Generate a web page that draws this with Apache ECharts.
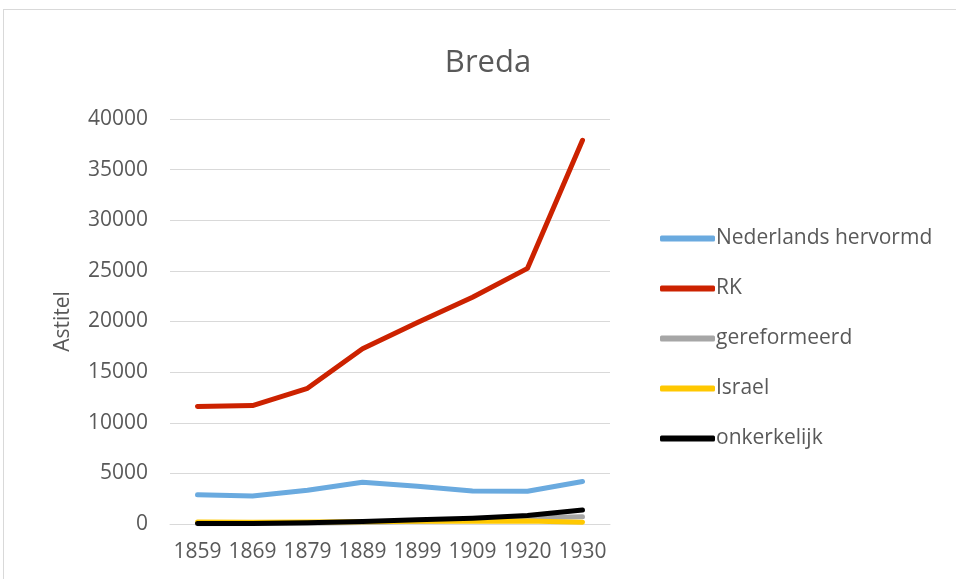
<!DOCTYPE html>
<html>
<head>
<meta charset="utf-8">
<script src="https://cdn.jsdelivr.net/npm/echarts@6/dist/echarts.min.js"></script>
<style>
html,body{margin:0;padding:0;background:#fff;}
#frame{position:absolute;left:3px;top:9px;width:960px;height:580px;border:1px solid #d9d9d9;box-sizing:border-box;}
#chart{position:absolute;left:0;top:0;width:956px;height:579px;}
</style>
</head>
<body>
<div id="frame"></div>
<div id="chart"></div>
<script>
var years = ['1859','1869','1879','1889','1899','1909','1920','1930'];
var hervormd = [2880, 2770, 3330, 4120, 3720, 3270, 3230, 4200];
var rk = [11600, 11700, 13400, 17300, 19900, 22400, 25250, 37900];
var gereformeerd = [30, 40, 80, 150, 280, 400, 600, 720];
var israel = [200, 170, 190, 230, 260, 280, 300, 170];
var onkerkelijk = [40, 60, 120, 250, 430, 580, 830, 1380];
var names = ['Nederlands hervormd','RK','gereformeerd','Israel','onkerkelijk'];
var colors = ['#6AAADF','#CC2200','#A6A6A6','#FFC800','#000000'];

var txt = '#595959';
var font = '"Open Sans", sans-serif';

function mk(i, d){
	return {
		name: names[i],
		type: 'line',
		data: d,
		symbol: 'none',
		lineStyle: {width: 5, color: colors[i], cap: 'round', join: 'round'},
		itemStyle: {color: colors[i]}
	};
}

var chart = echarts.init(document.getElementById('chart'));
var option = {
	animation: false,
	title: {
		text: 'Breda',
		left: 483,
		top: 43,
		textAlign: 'center',
		textStyle: {fontFamily: font, fontSize: 31, fontWeight: 'normal', color: txt}
	},
	legend: {
		orient: 'vertical',
		left: 655,
		top: 223,
		itemWidth: 55,
		itemHeight: 6,
		itemGap: 29,
		icon: 'roundRect',
		data: names,
		textStyle: {fontFamily: font, fontSize: 21, color: txt, padding: [0,0,0,-4]}
	},
	grid: {left: 170, right: 346, top: 119, bottom: 55},
	xAxis: {
		type: 'category',
		data: years,
		boundaryGap: true,
		axisLine: {show: true, lineStyle: {color: '#d9d9d9'}},
		axisTick: {show: false},
		axisLabel: {fontFamily: font, fontSize: 21, color: txt, margin: 18, interval: 0, hideOverlap: false}
	},
	yAxis: {
		type: 'value',
		min: 0,
		max: 40000,
		interval: 5000,
		name: 'Astitel',
		nameLocation: 'middle',
		nameGap: 96,
		nameTextStyle: {fontFamily: font, fontSize: 21, color: txt},
		axisLine: {show: false},
		axisTick: {show: false},
		axisLabel: {fontFamily: font, fontSize: 21, color: txt, margin: 22, formatter: function(v){ return String(v); }},
		splitLine: {lineStyle: {color: '#d9d9d9'}}
	},
	series: [mk(0, hervormd), mk(1, rk), mk(2, gereformeerd), mk(3, israel), mk(4, onkerkelijk)]
};
chart.setOption(option);
</script>
</body>
</html>
